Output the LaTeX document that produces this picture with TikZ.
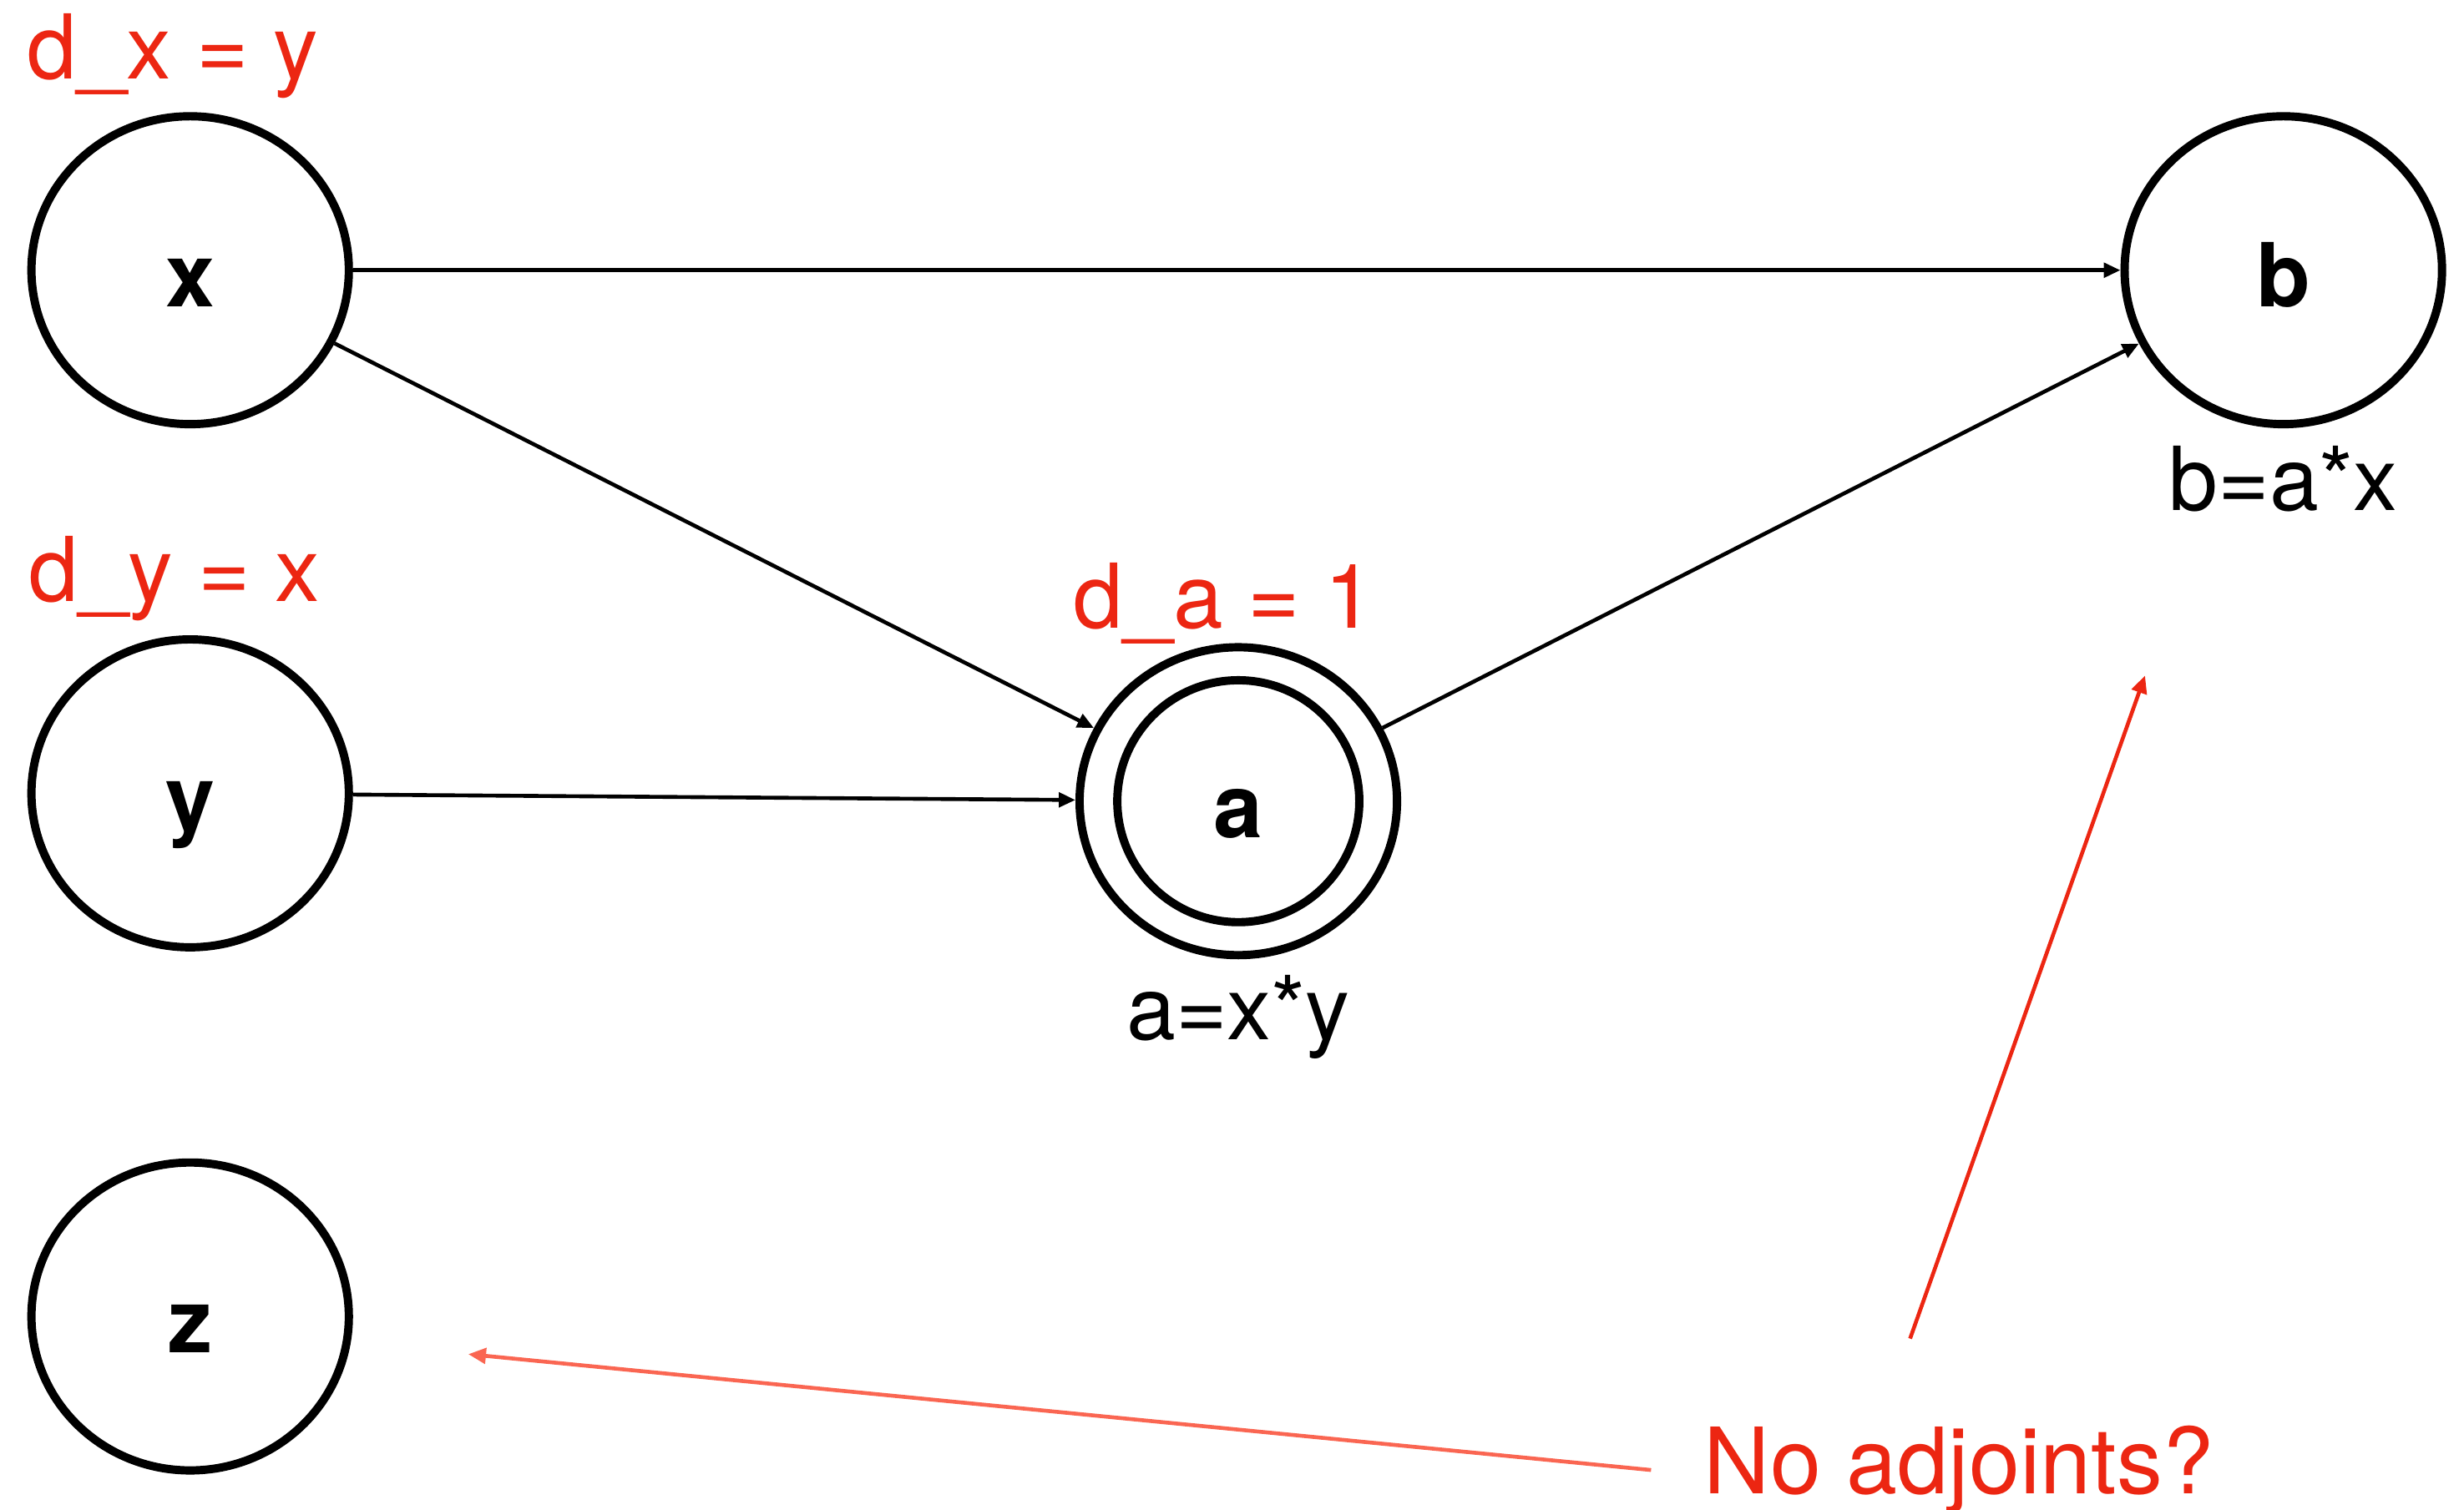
\documentclass[tikz,border=0pt]{standalone}
\usepackage{fontspec}
\setmainfont{TeX Gyre Heros}
\usetikzlibrary{arrows.meta, positioning, shapes.geometric}

\definecolor{adjred}{RGB}{236,38,18}
\definecolor{adjsalmon}{RGB}{250,102,82}

\begin{document}
\begin{tikzpicture}[
				var/.style={draw, ellipse, line width=1.5pt, minimum width=2.02cm, minimum height=1.96cm, inner sep=0pt, font=\fontsize{16}{19}\selectfont\bfseries, text height=0.46cm, text depth=0cm},
				seed/.style={draw, circle, line width=1.5pt, minimum size=1.54cm, inner sep=0pt, font=\fontsize{16}{19}\selectfont\bfseries, text height=0.46cm, text depth=0cm},
				adj/.style={anchor=base, text=adjred, font=\fontsize{16.2}{19}\selectfont},
				expr/.style={anchor=base, font=\fontsize{16}{19}\selectfont},
				arrow/.style={-{Triangle[length=3pt,width=2.6pt]}, line width=0.7pt},
				note/.style={-{Triangle[length=3.2pt,width=2.8pt]}, line width=0.7pt}
				]
				
				\useasboundingbox (0,0) rectangle (15.68,-9.61);
				
				% Inputs
				\node[var] (x) at (1.21,-1.72) {x};
				\node[var] (y) at (1.21,-5.05) {y};
				\node[var] (z) at (1.21,-8.38) {z};
				
				% Intermediate and output
				\node[var] (a) at (7.88,-5.10) {};
				\node[seed] (ain) at (a) {a};
				\node[var] (b) at (14.53,-1.72) {b};
				
				% Adjoints
				\node[adj] (dx) at (1.10,-0.50) {d\_x = y};
				\node[adj] (dy) at (1.11,-3.83) {d\_y = x};
				\node[adj] (da) at (7.79,-4.00) {d\_a = 1};
				
				% Expressions
				\node[expr] (bexpr) at (14.53,-3.25) {b=a*x};
				\node[expr] (aexpr) at (7.88,-6.62) {a=x*y};
				
				% Forward edges
				\draw[arrow] (x) -- (b);
				\draw[arrow] (x) -- (a);
				\draw[arrow] (y) -- (a);
				\draw[arrow] (a) -- (b);
				
				% Question
				\node[adj, inner sep=0pt, font=\fontsize{16.6}{19}\selectfont] (noadj) at (12.465,-9.51) {No adjoints?};
				\coordinate (zmiss) at (2.98,-8.62);
				\coordinate (bmiss) at (13.65,-4.30);
				\draw[note, adjred] ([xshift=-0.31cm, yshift=0.55cm]noadj.north) -- (bmiss);
				\draw[note, adjsalmon] ([xshift=-0.33cm]noadj.west) -- (zmiss);
				
\end{tikzpicture}
\end{document}
